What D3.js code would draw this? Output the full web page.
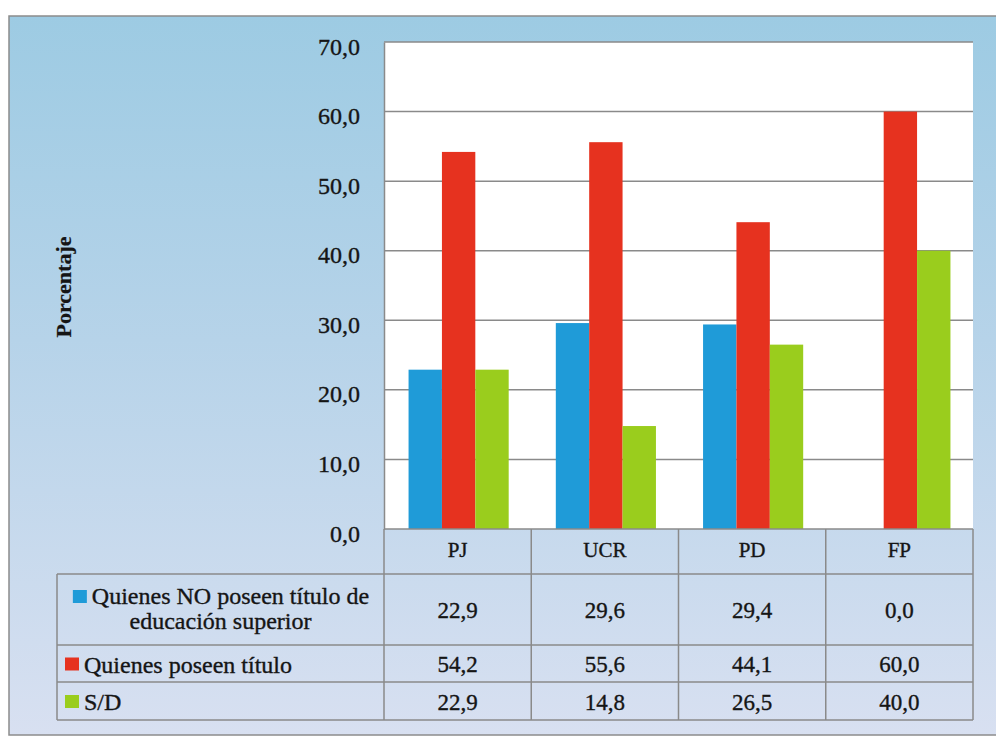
<!DOCTYPE html>
<html>
<head>
<meta charset="utf-8">
<script src="https://cdn.jsdelivr.net/npm/d3@7"></script>
<style>
  html, body { margin: 0; padding: 0; background: #ffffff; }
  svg { display: block; }
</style>
</head>
<body>
<svg id="chart" width="996" height="738"></svg>
<script>
// Party categories and series (percentages)
const categories = ["PJ", "UCR", "PD", "FP"];
const seriesLabels = [
  ["Quienes NO  poseen título de", "educación superior"],
  ["Quienes poseen título"],
  ["S/D"]
];
const seriesColors = ["#1f9bd8", "#e6321f", "#9acd1d"];
const noTitulo = [22.9, 29.6, 29.4, 0.0];
const conTitulo = [54.2, 55.6, 44.1, 60.0];
const sinDato = [22.9, 14.8, 26.5, 40.0];
const yTicks = [0, 10, 20, 30, 40, 50, 60, 70];
const yTitle = "Porcentaje";

const series = [noTitulo, conTitulo, sinDato];

const SERIF = '"Liberation Serif", "Times New Roman", Times, serif';
const INK = "#151515";

const locale = d3.formatLocale({ decimal: ",", thousands: ".", grouping: [3], currency: ["", ""] });
const fmt = locale.format(".1f");

const svg = d3.select("#chart");
const W = 996, H = 738;

// Shared text styling: serif, dark ink with a hairline stroke for weight
function styleText(sel, size, weight) {
  return sel.style("font-family", SERIF)
    .style("font-size", size + "px")
    .style("font-weight", weight || "normal")
    .style("fill", INK)
    .style("stroke", INK)
    .style("stroke-width", weight === "bold" ? "0.2px" : "0.35px");
}

// Background panel with vertical gradient
const defs = svg.append("defs");
const grad = defs.append("linearGradient")
  .attr("id", "bg").attr("x1", 0).attr("y1", 0).attr("x2", 0).attr("y2", 1);
grad.append("stop").attr("offset", "0%").attr("stop-color", "#9dcbe3");
grad.append("stop").attr("offset", "45%").attr("stop-color", "#b6d3e9");
grad.append("stop").attr("offset", "100%").attr("stop-color", "#d8e0f1");

const frame = { left: 9, top: 16, right: W + 2, bottom: 735 };
svg.append("rect")
  .attr("x", frame.left).attr("y", frame.top)
  .attr("width", frame.right - frame.left).attr("height", frame.bottom - frame.top)
  .attr("fill", "url(#bg)")
  .attr("stroke", "#8c8c8c").attr("stroke-width", 1.5);

// Plot area
const plot = { left: 384, right: 973, top: 42, bottom: 529 };

const x0 = d3.scaleBand().domain(categories).range([plot.left, plot.right]).paddingInner(0).paddingOuter(0);
const groupFrac = 0.68;
const x1 = d3.scaleBand().domain(d3.range(series.length))
  .range([0, x0.bandwidth() * groupFrac]).padding(0);
const groupOffset = x0.bandwidth() * (1 - groupFrac) / 2 + 1;

const y = d3.scaleLinear().domain([0, 70]).range([plot.bottom, plot.top]);

svg.append("rect")
  .attr("x", plot.left).attr("y", plot.top)
  .attr("width", plot.right - plot.left).attr("height", plot.bottom - plot.top)
  .attr("fill", "#ffffff");

// Gridlines
svg.append("g").selectAll("line")
  .data(yTicks.filter(t => t > 0))
  .join("line")
  .attr("x1", plot.left).attr("x2", plot.right)
  .attr("y1", d => y(d)).attr("y2", d => y(d))
  .attr("stroke", "#8a8a8a").attr("stroke-width", 1.5);

// Y axis (labels only, with left spine)
const yAxis = d3.axisLeft(y).tickValues(yTicks).tickFormat(fmt).tickSize(0).tickPadding(24);
const yg = svg.append("g").attr("transform", `translate(${plot.left},0)`).call(yAxis);
yg.attr("font-family", null).attr("font-size", null);
yg.select(".domain").attr("stroke", "#8a8a8a").attr("stroke-width", 1.5);
styleText(yg.selectAll("text"), 24).attr("dy", "0.5em");

// Bars
const groups = svg.append("g").selectAll("g")
  .data(categories)
  .join("g")
  .attr("transform", d => `translate(${x0(d) + groupOffset},0)`);

groups.selectAll("rect")
  .data((c, ci) => series.map((s, si) => ({ si, v: s[ci] })))
  .join("rect")
  .attr("x", d => x1(d.si))
  .attr("width", x1.bandwidth())
  .attr("y", d => y(d.v))
  .attr("height", d => y(0) - y(d.v))
  .attr("fill", d => seriesColors[d.si]);

// Data table below the plot
const table = { left: 57, header: 529, rows: [574, 645, 682, 720] };
const lineColor = "#8a8a8a";
const tg = svg.append("g").attr("stroke", lineColor).attr("stroke-width", 1.5);

tg.append("line").attr("x1", plot.left).attr("x2", plot.right)
  .attr("y1", table.header).attr("y2", table.header);
table.rows.forEach(ry => {
  tg.append("line").attr("x1", table.left).attr("x2", plot.right)
    .attr("y1", ry).attr("y2", ry);
});
const colEdges = categories.map(c => x0(c)).concat([plot.right]);
colEdges.forEach(cx => {
  tg.append("line").attr("x1", cx).attr("x2", cx)
    .attr("y1", table.header).attr("y2", table.rows[table.rows.length - 1]);
});
tg.append("line").attr("x1", table.left).attr("x2", table.left)
  .attr("y1", table.rows[0]).attr("y2", table.rows[table.rows.length - 1]);

// Category labels
styleText(svg.append("g").selectAll("text")
  .data(categories)
  .join("text")
  .attr("x", d => x0(d) + x0.bandwidth() / 2)
  .attr("y", (table.header + table.rows[0]) / 2 - 2)
  .attr("text-anchor", "middle")
  .attr("dominant-baseline", "central")
  .text(d => d), 21);

// Values per series row
series.forEach((s, si) => {
  const top = table.rows[si], bot = table.rows[si + 1];
  styleText(svg.append("g").selectAll("text")
    .data(s)
    .join("text")
    .attr("x", (d, i) => x0(categories[i]) + x0.bandwidth() / 2)
    .attr("y", (top + bot) / 2 + 1)
    .attr("text-anchor", "middle")
    .attr("dominant-baseline", "central")
    .text(d => fmt(d)), 23);
});

// Legend cells
const lg = svg.append("g");
{
  const top = table.rows[0];
  const cx = (table.left + plot.left) / 2;
  const lines = seriesLabels[0];
  const t1 = styleText(lg.append("text")
    .attr("x", cx + 10).attr("y", top + 22)
    .attr("text-anchor", "middle").attr("dominant-baseline", "central")
    .text(lines[0]), 24);
  const bb = t1.node().getBBox();
  lg.append("rect")
    .attr("x", bb.x - 19).attr("y", top + 16)
    .attr("width", 14).attr("height", 13)
    .attr("fill", seriesColors[0]);
  styleText(lg.append("text")
    .attr("x", cx).attr("y", top + 47)
    .attr("text-anchor", "middle").attr("dominant-baseline", "central")
    .text(lines[1]), 24);
}
[1, 2].forEach(si => {
  const top = table.rows[si], bot = table.rows[si + 1];
  const cy = (top + bot) / 2;
  lg.append("rect")
    .attr("x", 65).attr("y", cy - 6)
    .attr("width", 14).attr("height", 13)
    .attr("fill", seriesColors[si]);
  styleText(lg.append("text")
    .attr("x", 84).attr("y", cy + 1)
    .attr("dominant-baseline", "central")
    .text(seriesLabels[si][0]), 24);
});

// Y axis title
styleText(svg.append("text")
  .attr("transform", "translate(63,287) rotate(-90)")
  .attr("text-anchor", "middle")
  .attr("dominant-baseline", "central")
  .text(yTitle), 22, "bold");
</script>
</body>
</html>
